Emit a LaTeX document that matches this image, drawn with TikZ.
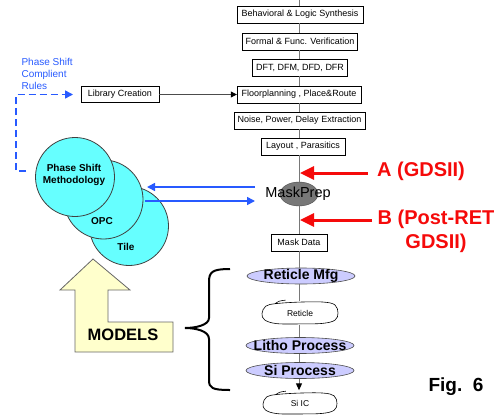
\documentclass[tikz,border=0pt]{standalone}
\usepackage{fontspec}
\setmainfont{Liberation Sans}
\usetikzlibrary{shapes.geometric,arrows.meta}

\definecolor{psmcyan}{RGB}{102,255,255}
\definecolor{flowblue}{RGB}{40,90,255}
\definecolor{gdsred}{RGB}{245,10,10}
\definecolor{lavender}{RGB}{204,204,255}
\definecolor{modelyellow}{RGB}{255,255,204}
\definecolor{spinegray}{RGB}{120,120,120}

% irregular outline around a (blank) node
\newcommand{\blobaround}[3]{%
  \draw[blobline, shift={(#1.center)}, xscale=#2, yscale=#3]
    plot[smooth cycle, tension=0.6] coordinates {(-1,0.05) (-0.9,-0.6) (-0.62,-0.82) (0,-0.95) (0.62,-0.95) (0.92,-0.7) (1,0) (0.92,0.62) (0.6,0.9) (0,0.95) (-0.62,0.92) (-0.93,0.6)}
    (-0.66,-0.8) .. controls (-0.55,-1.05) .. (-0.38,-1.12);}

\begin{document}
\begin{tikzpicture}[x=1pt,y=-1pt,
    flowbox/.style={draw=black, fill=white, rectangle, inner sep=0pt, minimum height=17pt, font=\fontsize{9}{10}\selectfont},
    spine/.style={draw=spinegray, line width=1pt},
    psmcircle/.style={circle, draw=black!75, fill=psmcyan, line width=0.8pt, inner sep=0pt, minimum size=79pt},
    circtext/.style={font=\fontsize{10}{12.3}\selectfont\bfseries, align=center},
    pill/.style={ellipse, draw=black!70, fill=lavender, line width=0.6pt, inner sep=0pt, minimum width=108pt, minimum height=16pt},
    pilltext/.style={font=\fontsize{14}{14}\selectfont\bfseries},
    blobnode/.style={rectangle, inner sep=0pt, font=\fontsize{8.5}{10}\selectfont},
    blobline/.style={draw=black, line width=0.6pt},
    redarrow/.style={draw=gdsred, line width=3pt, -{Triangle[length=14pt,width=13pt]}},
    redtext/.style={text=gdsred, font=\fontsize{20}{24}\selectfont\bfseries, align=center},
    bluearrow/.style={draw=flowblue, line width=1.6pt, -{Triangle[length=8pt,width=8pt]}}]
\useasboundingbox (0,0) rectangle (502,415);

% the main flow, top to bottom
\coordinate (top) at (299,0);
\node[flowbox, minimum width=126pt] (behav) at (300,14.5) {Behavioral \& Logic Synthesis};
\node[flowbox, minimum width=115pt] (formal) at (300,41.5) {Formal \& Func. Verification};
\node[flowbox, minimum width=95pt] (dft) at (300,67.5) {DFT, DFM, DFD, DFR};
\node[flowbox, minimum width=124pt] (floor) at (299,94.5) {Floorplanning , Place\&Route};
\node[flowbox, minimum width=131pt] (noise) at (299.5,120.5) {Noise, Power, Delay Extraction};
\node[flowbox, minimum width=84pt] (layout) at (303,146.5) {Layout , Parasitics};

% mask prep
\node[ellipse, draw=black!70, fill=spinegray, inner sep=0pt, minimum width=38pt, minimum height=24pt] (maskprep) at (299,194) {};
\node[font=\fontsize{14.5}{16}\selectfont] (maskpreptext) at (298,194) {MaskPrep};
\node[flowbox, minimum width=56pt] (maskdata) at (299,242.5) {Mask Data};

% fab steps
\node[pill] (retmfg) at (301,276) {};
\node[pilltext] (retmfgtext) at (301,276) {Reticle Mfg};
\node[blobnode, minimum width=76pt, minimum height=23pt] (reticle) at (300,313) {Reticle};
\blobaround{reticle}{38}{11.5}
\node[pill] (litho) at (300,345.5) {};
\node[pilltext] (lithotext) at (300,345.5) {Litho Process};
\node[pill] (siproc) at (300,370.5) {};
\node[pilltext] (siproctext) at (300,370.5) {Si Process};
\node[blobnode, minimum width=74pt, minimum height=22pt] (siic) at (300,403.5) {Si IC};
\blobaround{siic}{37}{11}

% spine
\draw[spine] (top) -- (behav.north -| top);
\foreach \a/\b in {behav/formal, formal/dft, dft/floor, floor/noise, noise/layout, layout/maskprep, maskprep/maskdata, maskdata/retmfg, retmfg/reticle, reticle/litho, litho/siproc}
  \draw[spine] (\a.south -| top) -- (\b.north -| top);
\draw[spine, -{Triangle[length=7pt,width=6pt,black]}, shorten >=2pt] (siproc.south -| top) -- (siic.north -| top);

% GDSII hand-off points
\coordinate (tipA) at (300,173);
\coordinate (tipB) at (300,220);
\node[redtext] (labA) at (421,171.5) {A (GDSII)};
\node[redtext] (labB) at (436,231) {B (Post-RET\\GDSII)};
\draw[redarrow] (labA.west |- tipA) ++(-6,0) -- (tipA);
\draw[redarrow] (labB.west |- tipB) ++(-2,0) -- (tipB);

% RET circles
\node[psmcircle] (tile) at (129,226) {};
\node[psmcircle] (opc) at (103.5,199.5) {};
\node[psmcircle] (psm) at (75,177) {};
\node[circtext] (psmtext) at (74,175) {Phase Shift\\Methodology};
\node[circtext] (opctext) at (102,221) {OPC};
\node[circtext] (tiletext) at (126,247) {Tile};

% to and from mask prep
\coordinate (mpout) at (255,187);
\coordinate (opcin) at (147,187);
\coordinate (opcout) at (145,201);
\coordinate (mpin) at (255,201);
\draw[bluearrow] (mpout) -- (opcin);
\draw[bluearrow] (opcout) -- (mpin);

% library creation
\node[flowbox, minimum width=78pt, minimum height=16pt] (library) at (120,94.5) {Library Creation};
\draw[draw=black!70, line width=0.8pt, -{Triangle[length=6pt,width=6pt,black]}] (library.east) -- (floor.west);
\node[text=flowblue, font=\fontsize{10}{12}\selectfont, align=left, anchor=north west] (rules) at (18,54.5) {Phase Shift\\Complient\\Rules};
\coordinate (psmleft) at (26,171);
\coordinate (libin) at (73,94.5);
\draw[draw=flowblue, line width=1.5pt, dash pattern=on 7pt off 4pt, -{Triangle[length=8pt,width=8pt]}]
  (psmleft) -- (16,171) -- (16,94.5) -- (libin);

% models
\draw[draw=black!60, fill=modelyellow, line width=0.8pt] (93,259) -- (130,290) -- (108,290) -- (108,322) -- (173,322) -- (173,352) -- (75,352) -- (75,290) -- (60,290) -- cycle;
\node[font=\fontsize{16.5}{18}\selectfont\bfseries] (models) at (123,334.5) {MODELS};

% brace
\draw[line width=2pt] (230,269) .. controls (212,269) and (209,272) .. (209,282) -- (209,318)
  .. controls (209,325) and (196,328) .. (185,328) .. controls (196,328) and (209,331) .. (209,339)
  -- (209,380) .. controls (209,388) and (212,390) .. (230,390);

\node[font=\fontsize{19}{20}\selectfont\bfseries] (fig) at (456,386.5) {Fig.\ \ 6};
\end{tikzpicture}
\end{document}
